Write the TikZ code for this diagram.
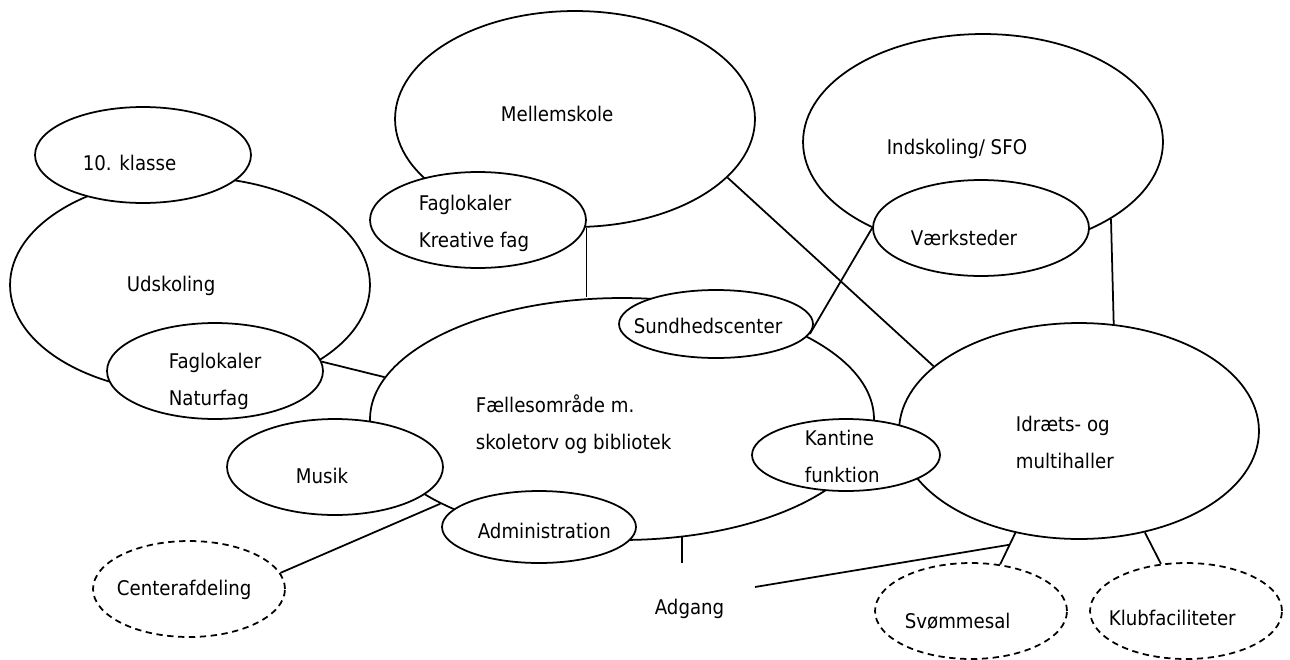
\documentclass[tikz,border=0pt]{standalone}
\usepackage{fontspec}
\setmainfont{DejaVu Sans Condensed}
\usetikzlibrary{calc}
\usetikzlibrary{shapes.geometric}

\begin{document}
\begin{tikzpicture}[x=0.02cm,y=-0.02cm,line width=1pt,
  wing/.style={ellipse,draw,inner sep=0pt,minimum width=7.2cm,minimum height=4.32cm},
  room/.style={ellipse,draw,fill=white,inner sep=0pt,minimum width=4.32cm,minimum height=1.92cm},
  extra/.style={room,dash pattern=on 3.6pt off 2.6pt,minimum width=3.84cm},
  lbl/.style={anchor=north west,inner sep=0pt,align=left,font=\fontsize{11.5}{21}\selectfont}]
\useasboundingbox (0,0) rectangle (1290,659);

% store omraader
\node[wing] (udsk) at (190,285) {};
\node[wing] (mellem) at (575,119) {};
\node[wing] (indsk) at (983,142) {};
\node[wing,minimum width=10.08cm,minimum height=4.84cm] (faelles) at (622,419) {};
\node[wing] (idraet) at (1079,431) {};

% mindre rum
\node[room] (klasse) at (143,155) {};
\node[room] (natur) at (215,371) {};
\node[room] (kreativ) at (478,220) {};
\node[room] (vaerk) at (981,228) {};
\node[room,minimum width=3.88cm,minimum height=1.36cm] (sund) at (716,324) {};
\node[room,minimum width=3.76cm,minimum height=1.44cm] (kantine) at (846,455) {};
\node[room] (musik) at (335,467) {};
\node[room,minimum width=3.88cm,minimum height=1.44cm] (admin) at (539,527) {};
\node[extra] (centerafd) at (189,589) {};
\node[extra] (svoem) at (971,611) {};
\node[extra] (klub) at (1186,611) {};

\coordinate (adgangtop) at (683,563);
\coordinate (adgangend) at (755,587);
\coordinate (oest) at ($(idraet.-122.5)!0.375!(svoem.58.7)$);

% forbindelser
\draw (mellem.-21.5) -- (idraet.156.2);
\draw (mellem.-84) -- (mellem.-84 |- faelles.north);
\draw (indsk.-31.8) -- (idraet.72.4);
\draw (vaerk.180) -- (sund.-6);
\draw (natur.5) -- (faelles.170.8);
\draw (centerafd.10) -- (faelles.-155);
\draw (faelles.-63.4) -- (faelles.-63.4 |- adgangtop);
\draw (idraet.-122.5) -- (svoem.58.7);
\draw (adgangend) -- (oest);
\draw (idraet.-57.1) -- (klub.118.9);

% tekster
\node[lbl] (t-klasse) at (82,154) {10. klasse};
\node[lbl] (t-udsk) at (126,275) {Udskoling};
\node[lbl] (t-natur) at (168,352) {Faglokaler\\Naturfag};
\node[lbl] (t-mellem) at (500,105) {Mellemskole};
\node[lbl] (t-kreativ) at (418,194) {Faglokaler\\Kreative fag};
\node[lbl] (t-indsk) at (886,138) {Indskoling/ SFO};
\node[lbl] (t-vaerk) at (910,229) {Værksteder};
\node[lbl] (t-sund) at (633,317) {Sundhedscenter};
\node[lbl] (t-faelles) at (475,394) {Fællesområde m.\\skoletorv og bibliotek};
\node[lbl] (t-kantine) at (804,429) {Kantine\\funktion};
\node[lbl] (t-idraet) at (1015,415) {Idræts- og\\multihaller};
\node[lbl] (t-musik) at (295,467) {Musik};
\node[lbl] (t-admin) at (477,522) {Administration};
\node[lbl] (t-centerafd) at (116,579) {Centerafdeling};
\node[lbl] (t-svoem) at (904,612) {Svømmesal};
\node[lbl] (t-klub) at (1108,609) {Klubfaciliteter};
\node[lbl] (t-adgang) at (654,598) {Adgang};

\end{tikzpicture}
\end{document}
